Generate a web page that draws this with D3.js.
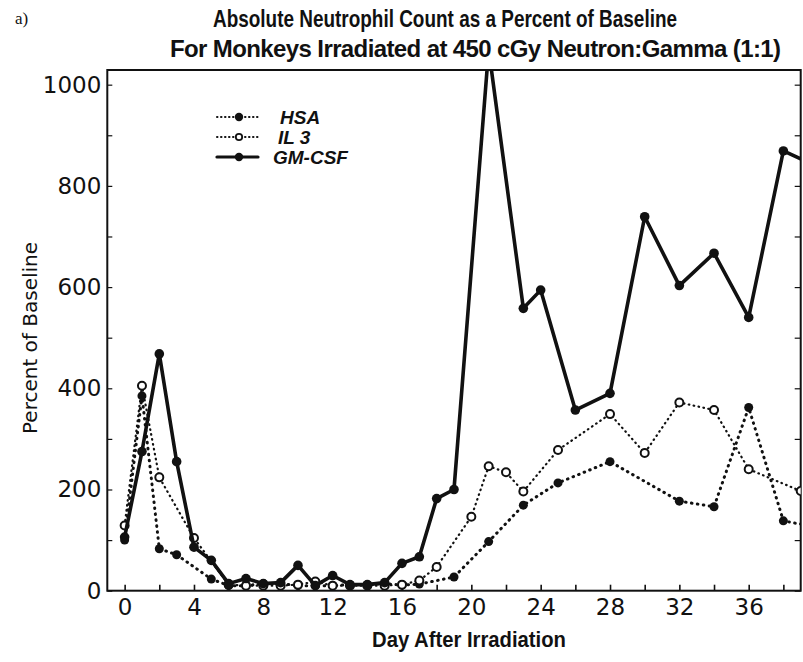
<!DOCTYPE html>
<html>
<head>
<meta charset="utf-8">
<script src="https://cdn.jsdelivr.net/npm/d3@7"></script>
<style>
  body { margin: 0; background: #fff; }
  svg { display: block; }
</style>
</head>
<body>
<svg id="chart" width="803" height="662"></svg>
<script>
// Absolute neutrophil count, % of baseline, by treatment group
const hsaDays   = [0, 1, 2, 3, 5, 6, 7, 8, 9, 10, 11, 12, 13, 14, 15, 16, 17, 19, 21, 23, 25, 28, 32, 34, 36, 38, 40];
const hsaValues = [100, 385, 83, 71, 23, 10, 10, 14, 14, 10, 10, 10, 12, 12, 14, 11, 13, 27, 97, 169, 213, 255, 177, 166, 362, 138, 125];

const il3Days   = [0, 1, 2, 4, 6, 7, 8, 9, 10, 11, 12, 13, 14, 15, 16, 17, 18, 20, 21, 22, 23, 25, 28, 30, 32, 34, 36, 39];
const il3Values = [129, 405, 224, 104, 12, 10, 10, 10, 12, 18, 10, 10, 10, 10, 12, 20, 47, 146, 246, 234, 196, 278, 349, 272, 372, 357, 240, 197];

const gmDays   = [0, 1, 2, 3, 4, 5, 6, 7, 8, 9, 10, 11, 12, 13, 14, 15, 16, 17, 18, 19, 21, 23, 24, 26, 28, 30, 32, 34, 36, 38, 40];
const gmValues = [106, 275, 468, 255, 86, 60, 14, 24, 14, 16, 50, 10, 30, 12, 12, 16, 54, 67, 182, 200, 1070, 558, 594, 357, 390, 739, 603, 667, 540, 869, 838];

const xTickLabels = [0, 4, 8, 12, 16, 20, 24, 28, 32, 36];
const xMinorTicks = d3.range(0, 39, 2);
const yTickLabels = [0, 200, 400, 600, 800, 1000];
const yMinorTicks = d3.range(0, 1001, 100);

const titleLines = [
  "Absolute Neutrophil Count as a Percent of Baseline",
  "For Monkeys Irradiated at 450 cGy Neutron:Gamma (1:1)"
];
const seriesNames = ["HSA", "IL 3", "GM-CSF"];

const svg = d3.select("#chart");
const plot = { left: 107.3, right: 800.7, top: 70, bottom: 590.7 };

const x = d3.scaleLinear().domain([-1, 39]).range([plot.left, plot.right]);
const y = d3.scaleLinear().domain([0, 1029]).range([plot.bottom, plot.top]);

const ink = "#111";
const numFont = "'DejaVu Sans', sans-serif";
const narrowFont = "'Liberation Sans Narrow', 'Arial Narrow', 'Liberation Sans', sans-serif";

// Panel letter and title
svg.append("text")
  .attr("x", 15).attr("y", 24)
  .attr("font-family", "'Liberation Serif', serif")
  .attr("font-size", 17)
  .attr("fill", ink)
  .text("a)");

const titleLayout = [
  { x: 213, y: 27, len: 464, adjust: "spacingAndGlyphs" },
  { x: 170, y: 57, len: 611, adjust: "spacing" }
];
titleLines.forEach((t, i) => {
  svg.append("text")
    .attr("x", titleLayout[i].x).attr("y", titleLayout[i].y)
    .attr("font-family", narrowFont)
    .attr("font-weight", "bold")
    .attr("font-size", 24)
    .attr("textLength", titleLayout[i].len)
    .attr("lengthAdjust", titleLayout[i].adjust)
    .attr("fill", ink)
    .text(t);
});

// Frame
svg.append("rect")
  .attr("x", plot.left).attr("y", plot.top)
  .attr("width", plot.right - plot.left)
  .attr("height", plot.bottom - plot.top)
  .attr("fill", "none")
  .attr("stroke", ink)
  .attr("stroke-width", 2);

// Inward tick marks on bottom, left and right
const xTickAxis = d3.axisBottom(x).tickValues(xMinorTicks).tickSize(-6).tickFormat("");
svg.append("g").attr("transform", `translate(0,${plot.bottom})`).call(xTickAxis)
  .call(g => g.select(".domain").remove())
  .call(g => g.selectAll("line").attr("stroke", ink).attr("stroke-width", 1.6));

const yTickLeft = d3.axisLeft(y).tickValues(yMinorTicks).tickSize(-5).tickFormat("");
svg.append("g").attr("transform", `translate(${plot.left},0)`).call(yTickLeft)
  .call(g => g.select(".domain").remove())
  .call(g => g.selectAll("line").attr("stroke", ink).attr("stroke-width", 1.2));

const yTickRight = d3.axisRight(y).tickValues(yMinorTicks).tickSize(-6).tickFormat("");
svg.append("g").attr("transform", `translate(${plot.right},0)`).call(yTickRight)
  .call(g => g.select(".domain").remove())
  .call(g => g.selectAll("line").attr("stroke", ink).attr("stroke-width", 1.2));

// Tick labels
const xLabelAxis = d3.axisBottom(x).tickValues(xTickLabels).tickSize(0).tickPadding(8).tickFormat(d3.format("d"));
svg.append("g").attr("transform", `translate(0,${plot.bottom})`).call(xLabelAxis)
  .call(g => g.select(".domain").remove())
  .call(g => g.selectAll("text")
    .attr("font-family", numFont).attr("font-size", 23).attr("fill", ink));

const yLabelAxis = d3.axisLeft(y).tickValues(yTickLabels).tickSize(0).tickPadding(6).tickFormat(d3.format("d"));
svg.append("g").attr("transform", `translate(${plot.left},0)`).call(yLabelAxis)
  .call(g => g.select(".domain").remove())
  .call(g => g.selectAll("text")
    .attr("font-family", numFont).attr("font-size", 23).attr("fill", ink));

// Axis titles
svg.append("text")
  .attr("x", 372).attr("y", 647)
  .attr("font-family", narrowFont)
  .attr("font-weight", "bold")
  .attr("font-size", 22)
  .attr("textLength", 194)
  .attr("lengthAdjust", "spacingAndGlyphs")
  .attr("fill", ink)
  .text("Day After Irradiation");

svg.append("text")
  .attr("transform", "translate(37,338) rotate(-90)")
  .attr("text-anchor", "middle")
  .attr("font-family", numFont)
  .attr("font-size", 20)
  .attr("fill", ink)
  .text("Percent of Baseline");

// Data, clipped to the frame
svg.append("clipPath").attr("id", "plotClip")
  .append("rect")
  .attr("x", plot.left).attr("y", plot.top)
  .attr("width", plot.right - plot.left)
  .attr("height", plot.bottom - plot.top + 8);

const dataLayer = svg.append("g").attr("clip-path", "url(#plotClip)");

const series = [
  { name: seriesNames[0], days: hsaDays, values: hsaValues, width: 3, dash: "0.6,5.4", open: false, r: 4.5 },
  { name: seriesNames[1], days: il3Days, values: il3Values, width: 2.2, dash: "0.6,4.4", open: true, r: 4 },
  { name: seriesNames[2], days: gmDays, values: gmValues, width: 3.6, dash: null, open: false, r: 4.8 }
];

const line = d3.line().x(d => x(d[0])).y(d => y(d[1]));

series.forEach(s => {
  const pts = s.days.map((d, i) => [d, s.values[i]]);
  dataLayer.append("path")
    .datum(pts)
    .attr("d", line)
    .attr("fill", "none")
    .attr("stroke", ink)
    .attr("stroke-width", s.width)
    .attr("stroke-linecap", "round")
    .attr("stroke-linejoin", "round")
    .attr("stroke-dasharray", s.dash);
  dataLayer.append("g").selectAll("circle")
    .data(pts)
    .join("circle")
    .attr("cx", d => x(d[0]))
    .attr("cy", d => y(d[1]))
    .attr("r", s.r)
    .attr("fill", s.open ? "#fff" : ink)
    .attr("stroke", ink)
    .attr("stroke-width", s.open ? 2 : 0);
});

// Legend
const legendRows = [
  { y: 117, s: series[0], textX: 280 },
  { y: 137, s: series[1], textX: 278 },
  { y: 157, s: series[2], textX: 273 }
];
legendRows.forEach(row => {
  svg.append("line")
    .attr("x1", 217).attr("x2", 258)
    .attr("y1", row.y).attr("y2", row.y)
    .attr("stroke", ink)
    .attr("stroke-width", row.s.dash ? 2 : 3.2)
    .attr("stroke-linecap", "round")
    .attr("stroke-dasharray", row.s.dash ? "0.5,3.5" : null);
  svg.append("circle")
    .attr("cx", 239).attr("cy", row.y)
    .attr("r", row.s.open ? 3.2 : 4.2)
    .attr("fill", row.s.open ? "#fff" : ink)
    .attr("stroke", ink)
    .attr("stroke-width", row.s.open ? 1.8 : 0);
  svg.append("text")
    .attr("x", row.textX).attr("y", row.y + 7)
    .attr("font-family", "'Liberation Sans', Arial, sans-serif")
    .attr("font-style", "italic")
    .attr("font-weight", "bold")
    .attr("font-size", 19)
    .attr("fill", ink)
    .text(row.s.name);
});
</script>
</body>
</html>
